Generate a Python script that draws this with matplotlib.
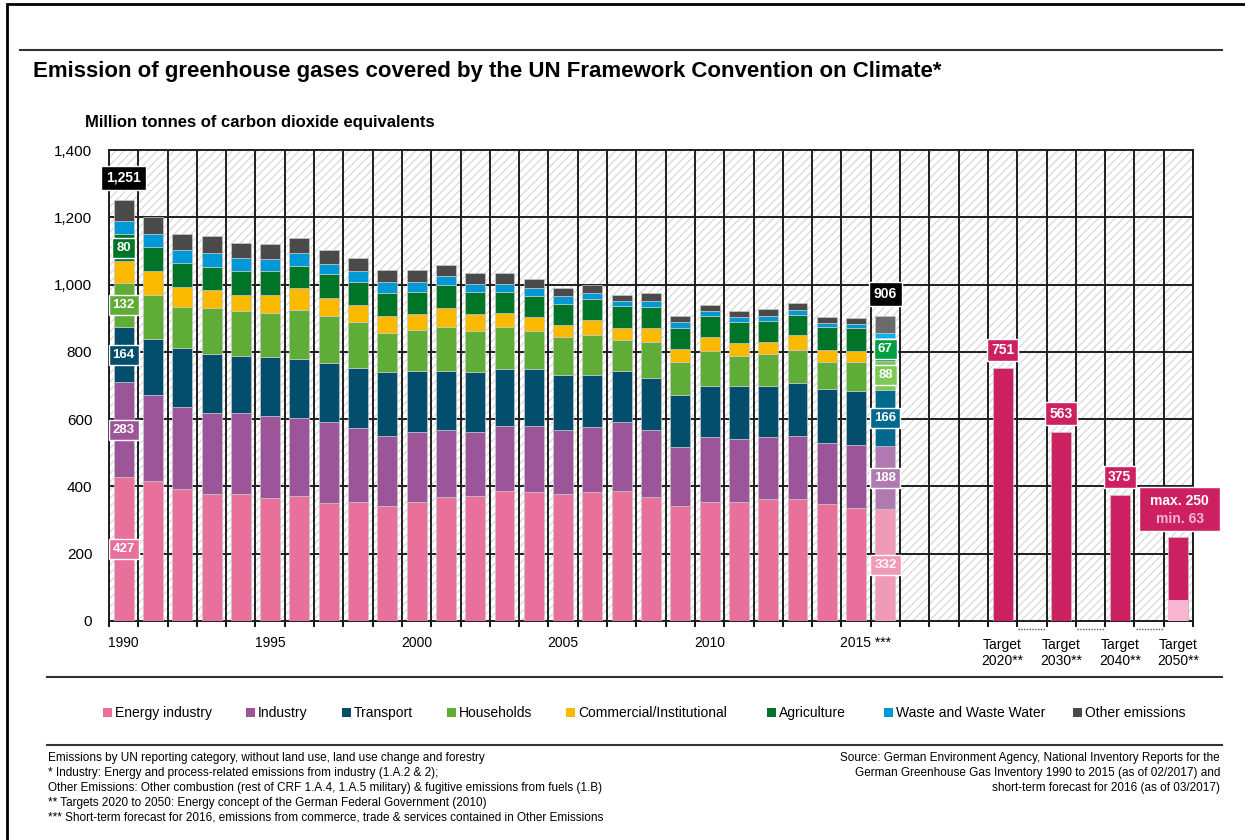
import matplotlib
matplotlib.use("Agg")
import matplotlib.pyplot as plt
from matplotlib.patches import Rectangle
from matplotlib.lines import Line2D
from matplotlib.ticker import FuncFormatter, FixedLocator
import matplotlib.transforms as mtrans
import numpy as np

plt.rcParams["font.family"] = ["Liberation Sans", "DejaVu Sans"]
plt.rcParams["hatch.linewidth"] = 1.0

# datos (Mt CO2 equivalentes)
years = list(range(1990, 2017))
energy = [427, 416, 391, 377, 377, 365, 373, 350, 354, 342, 354, 368, 373, 387, 382, 377, 382, 386, 368, 342, 354, 354, 364, 364, 347, 337, 332]
industry = [283, 256, 245, 241, 241, 243, 230, 241, 219, 208, 209, 199, 189, 194, 199, 190, 195, 205, 199, 176, 192, 187, 182, 186, 181, 185, 188]
transport = [164, 167, 176, 176, 171, 177, 177, 176, 179, 190, 180, 176, 178, 167, 167, 164, 154, 153, 154, 153, 153, 158, 153, 158, 162, 163, 166]
households = [132, 131, 122, 136, 132, 131, 145, 140, 137, 116, 123, 132, 122, 127, 113, 113, 118, 91, 109, 99, 104, 90, 95, 99, 80, 85, 88]
commercial = [64, 69, 59, 54, 49, 54, 64, 54, 50, 51, 46, 55, 50, 41, 42, 36, 45, 36, 41, 38, 42, 37, 36, 42, 37, 32, 0]
agriculture = [80, 73, 71, 68, 69, 69, 67, 69, 68, 68, 67, 68, 67, 63, 63, 63, 63, 64, 63, 63, 62, 63, 63, 62, 67, 69, 67]
waste = [38, 37, 38, 41, 41, 36, 37, 31, 32, 32, 28, 27, 23, 23, 23, 23, 19, 17, 18, 18, 14, 14, 14, 14, 11, 11, 15]
other = [63, 53, 49, 50, 45, 45, 45, 41, 40, 36, 36, 32, 32, 32, 27, 23, 22, 18, 23, 18, 18, 18, 19, 19, 20, 20, 50]

sectors = ["Energy industry", "Industry", "Transport", "Households", "Commercial/Institutional",
           "Agriculture", "Waste and Waste Water", "Other emissions"]
series = [energy, industry, transport, households, commercial, agriculture, waste, other]
colors = ["#E8709A", "#9C5599", "#034E6C", "#5FAD37", "#FBBA00", "#007427", "#0099D6", "#4A4A4A"]
forecast_colors = ["#F09AB8", "#B07AB0", "#006A8E", "#7EC855", "#FBBA00", "#00A040", "#00B4EE", "#6B6B6B"]

target_labels = ["Target\n2020**", "Target\n2030**", "Target\n2040**", "Target\n2050**"]
targets = [751, 563, 375, 250]
target_2050_min = 63

year_labels = {1990: "1990", 1995: "1995", 2000: "2000", 2005: "2005", 2010: "2010"}

W, H = 1245, 840
fig = plt.figure(figsize=(W / 100, H / 100), dpi=100)
ax = fig.add_axes([109 / W, 1 - 621 / H, (1193 - 109) / W, (621 - 150) / H])

n_cells = 37
ax.set_xlim(-0.5, n_cells - 0.5)
ax.set_ylim(0, 1400)

# fondo rayado
ax.add_patch(Rectangle((0, 0), 1, 1, transform=ax.transAxes, facecolor="white",
                       edgecolor="#dadada", hatch="////", lw=0, zorder=0))
for x in np.arange(-0.5, n_cells, 1):
    ax.axvline(x, color="#1e1e1e", lw=1.4, zorder=1)
for y in range(200, 1400, 200):
    ax.axhline(y, color="#1e1e1e", lw=1.4, zorder=1)
for s in ax.spines.values():
    s.set_linewidth(1.4)
    s.set_color("#1e1e1e")

# barras apiladas
xpos = np.arange(len(years))
bw = 0.68
bottom = np.zeros(len(years))
for vals, c, fc in zip(series, colors, forecast_colors):
    vals = np.array(vals, dtype=float)
    cols = [c] * (len(years) - 1) + [fc]
    ax.bar(xpos, vals, bw, bottom=bottom, color=cols, edgecolor="#c8c8c8", lw=0.5, zorder=3)
    bottom += vals
totals = bottom

def box(x, y, txt, fc, size=9.5):
    ax.text(x, y, txt, ha="center", va="center", color="white", fontsize=size,
            fontweight="bold", zorder=6,
            bbox=dict(boxstyle="square,pad=0.3", fc=fc, ec="white", lw=1))

# etiquetas 1990 y 2016
for i, fc_list in [(0, colors), (len(years) - 1, forecast_colors)]:
    b = 0
    for k, vals in enumerate(series):
        v = vals[i]
        if k in (0, 1, 2, 3, 5):
            box(xpos[i], b + v / 2, f"{v:d}", fc_list[k])
        b += v

for i in (0, len(years) - 1):
    ax.annotate(f"{int(totals[i]):,}", (xpos[i], totals[i]), xytext=(0, 16),
                textcoords="offset points", ha="center", va="center", color="white",
                fontsize=10, fontweight="bold", zorder=6,
                bbox=dict(boxstyle="square,pad=0.35", fc="black", ec="white", lw=1))

# metas
tpos = [30, 32, 34, 36]
crimson = "#CC2060"
for p, v in zip(tpos, targets):
    ax.bar(p, v, bw, color=crimson, edgecolor="#c8c8c8", lw=0.5, zorder=3)
ax.bar(tpos[-1], target_2050_min, bw, color="#F8B6D2", lw=0, zorder=4)

for p, v in zip(tpos[:3], targets[:3]):
    ax.annotate(f"{v}", (p, v), xytext=(0, 13), textcoords="offset points",
                ha="center", va="center", color="white", fontsize=10, fontweight="bold",
                zorder=6, bbox=dict(boxstyle="square,pad=0.3", fc=crimson, ec="white", lw=1))

# caja 2050 (max / min)
px_x = (1193 - 109) / n_cells
px_y = (621 - 150) / 1400
bx, by = tpos[-1] + 0.05, targets[-1] + 18
bwid, bhgt = 81 / px_x, 44 / px_y
ax.add_patch(Rectangle((bx - bwid / 2, by), bwid, bhgt, fc=crimson, ec="white", lw=1,
                       zorder=6, clip_on=False))
ax.text(bx, by + bhgt * 0.68, f"max. {targets[-1]}", ha="center", va="center", color="white",
        fontsize=10, fontweight="bold", zorder=7)
ax.text(bx, by + bhgt * 0.27, f"min. {target_2050_min}", ha="center", va="center", color="#F8B6D2",
        fontsize=10, fontweight="bold", zorder=7)

# ejes
ax.yaxis.set_major_locator(FixedLocator(range(0, 1401, 200)))
ax.yaxis.set_major_formatter(FuncFormatter(lambda v, p: f"{v:,.0f}"))
ax.tick_params(axis="y", length=0, pad=12, labelsize=11)
ax.xaxis.set_major_locator(FixedLocator(np.arange(-0.5, n_cells, 1)))
ax.tick_params(axis="x", length=4, width=1.3, direction="out", labelbottom=False)

tr = mtrans.blended_transform_factory(ax.transData, ax.transAxes)
ytxt = -15 / 471
for yr, lab in year_labels.items():
    ax.text(years.index(yr), ytxt, lab, transform=tr, ha="center", va="top", fontsize=10)
ax.text(years.index(2015) - 0.55, ytxt, "2015 ***", transform=tr, ha="left", va="top", fontsize=10)
for p, lab in zip(tpos, target_labels):
    ax.text(p, -17 / 471, lab, transform=tr, ha="center", va="top", fontsize=10, linespacing=1.15)
for p in (31, 33, 35):
    ax.plot([p - 0.46, p + 0.46], [-8 / 471] * 2, transform=tr, color="#555555",
            lw=1, ls=(0, (1, 1)), clip_on=False)

# titulos
fig.text(33 / W, 1 - 72 / H, "Emission of greenhouse gases covered by the UN Framework Convention on Climate*",
         fontsize=16, fontweight="bold", va="center")
fig.text(85 / W, 1 - 122 / H, "Million tonnes of carbon dioxide equivalents",
         fontsize=12, fontweight="bold", va="center")

# lineas y marco
def hline(y, x0, x1):
    fig.add_artist(Line2D([x0 / W, x1 / W], [1 - y / H] * 2, color="#333333", lw=1.5))
hline(50, 20, 1222)
hline(677, 47, 1222)
hline(745, 47, 1222)
fig.add_artist(Rectangle((7 / W, -0.1), 1.2, 1.1 - 4 / H, transform=fig.transFigure,
                         fill=False, ec="black", lw=2))

# leyenda
sq_x = [103, 246, 342, 447, 566, 767, 884, 1073]
for x0, lab, c in zip(sq_x, sectors, colors):
    fig.add_artist(Rectangle((x0 / W, 1 - 717 / H), 9 / W, 9 / H, transform=fig.transFigure,
                             fc=c, ec="none"))
    fig.text((x0 + 12) / W, 1 - 713 / H, lab, fontsize=10, va="center")

# notas
notes = [
    "Emissions by UN reporting category, without land use, land use change and forestry",
    "* Industry: Energy and process-related emissions from industry (1.A.2 & 2);",
    "Other Emissions: Other combustion (rest of CRF 1.A.4, 1.A.5 military) & fugitive emissions from fuels (1.B)",
    "** Targets 2020 to 2050: Energy concept of the German Federal Government (2010)",
    "*** Short-term forecast for 2016, emissions from commerce, trade & services contained in Other Emissions",
]
for k, t in enumerate(notes):
    fig.text(48 / W, 1 - (758 + 15 * k) / H, t, fontsize=8.5, va="center")
source = [
    "Source: German Environment Agency, National Inventory Reports for the",
    "German Greenhouse Gas Inventory 1990 to 2015 (as of 02/2017) and",
    "short-term forecast for 2016 (as of 03/2017)",
]
for k, t in enumerate(source):
    fig.text(1220 / W, 1 - (758 + 15 * k) / H, t, fontsize=8.5, va="center", ha="right")

fig.savefig("out.png", dpi=100, facecolor="white")
